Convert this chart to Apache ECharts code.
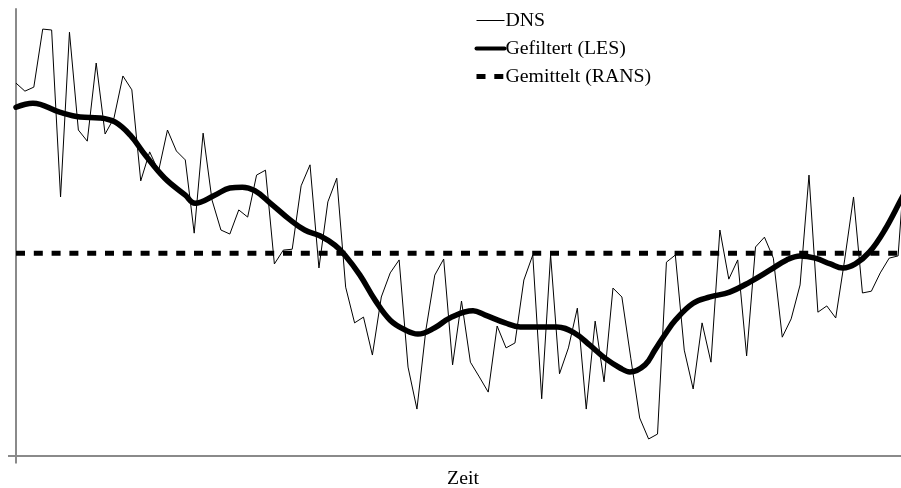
<!DOCTYPE html>
<html>
<head>
<meta charset="utf-8">
<title>DNS / LES / RANS</title>
<script src="https://cdn.jsdelivr.net/npm/echarts@6/dist/echarts.min.js"></script>
<style>
  html, body { margin: 0; padding: 0; background: #fff; overflow: hidden; }
  #chart { width: 901px; height: 488px; }
</style>
</head>
<body>
<div id="chart"></div>
<script>
// Raw signal: one sample per time step (0..100)
const dnsValues = [
  83.4, 81.6, 82.5, 95.5, 95.3, 57.9, 94.8, 72.9, 70.4, 87.9,
  72.0, 75.6, 85.0, 81.9, 61.5, 68.0, 63.7, 72.9, 68.2, 66.2,
  49.8, 72.2, 57.2, 50.5, 49.6, 55.0, 53.4, 62.8, 63.9, 42.9,
  46.0, 46.2, 60.4, 65.1, 42.0, 56.8, 62.1, 37.7, 29.7, 31.0,
  22.5, 35.5, 40.9, 43.8, 19.8, 10.4, 28.1, 40.4, 44.0, 20.3,
  34.6, 20.9, 17.6, 14.2, 29.0, 24.1, 25.2, 39.3, 44.9, 12.7,
  44.9, 18.3, 24.1, 33.0, 10.4, 30.1, 16.5, 37.5, 35.5, 21.8,
  8.4, 3.7, 4.8, 43.3, 44.9, 23.6, 14.9, 29.7, 20.9, 50.5,
  39.5, 43.8, 22.3, 46.7, 48.9, 44.2, 26.5, 30.6, 38.2, 62.8,
  32.1, 33.5, 30.8, 43.8, 57.9, 36.4, 36.8, 40.9, 44.2, 44.7,
  72.0
];

// Filtered signal: time positions and values of the smooth curve
const lesTimes = [
  0, 1.9, 4.9, 7.2, 9.4, 11.1, 12.8, 14.5, 16.7, 19.0,
  20.1, 22.3, 24.0, 25.4, 26.8, 28.5, 30.8, 32.4, 34.1, 35.8,
  36.9, 38.6, 40.3, 42.0, 43.7, 45.1, 47.0, 48.7, 51.3, 52.6,
  54.9, 56.6, 58.8, 60.7, 62.7, 64.4, 66.1, 67.8, 68.9, 70.6,
  71.7, 72.8, 74.0, 76.0, 77.9, 80.1, 82.4, 84.6, 86.5, 88.0,
  89.7, 91.4, 92.8, 94.2, 95.8, 97.5, 99.3, 100
];
const lesValues = [
  78.0, 78.9, 76.9, 75.8, 75.6, 74.7, 71.8, 67.3, 62.1, 58.3,
  56.5, 58.3, 59.9, 60.1, 59.3, 56.6, 52.7, 50.5, 49.2, 47.1,
  44.9, 40.4, 34.8, 30.3, 28.1, 27.2, 28.6, 30.8, 32.4, 31.5,
  29.7, 28.8, 28.8, 28.8, 27.4, 24.7, 21.8, 19.6, 18.7, 20.3,
  23.6, 27.0, 30.3, 34.1, 35.5, 36.6, 38.9, 41.5, 43.8, 44.7,
  44.2, 42.9, 42.0, 42.9, 45.6, 50.5, 57.2, 59.9
];

// Time-averaged level
const ransLevel = 45.3;
const timeRange = [0, 100];

const seriesNames = ['DNS', 'Gefiltert (LES)', 'Gemittelt (RANS)'];
const axisTitle = 'Zeit';

const dnsData = dnsValues.map((v, i) => [i, v]);
const lesData = lesTimes.map((t, i) => [t, lesValues[i]]);
const ransData = [[timeRange[0], ransLevel], [timeRange[1], ransLevel]];

const serif = 'Liberation Serif, Times New Roman, serif';
const axisGray = '#8a8a8a';
// legend keeps only the line sample, no marker dot
const hiddenMarker = { color: 'rgba(0,0,0,0)', borderWidth: 0, opacity: 0 };

const chart = echarts.init(document.getElementById('chart'), null, { renderer: 'canvas' });
chart.setOption({
  animation: false,
  backgroundColor: '#ffffff',
  grid: { left: 16, right: -6, top: 9, bottom: 32.5, containLabel: false, outerBoundsMode: 'none' },
  legend: {
    orient: 'vertical',
    left: 469,
    top: 5,
    itemWidth: 28,
    itemHeight: 14,
    itemGap: 7,
    itemStyle: hiddenMarker,
    textStyle: {
      fontFamily: serif,
      fontSize: 19.8,
      color: '#000',
      lineHeight: 21,
      padding: [0, 0, 0, -4]
    },
    data: [
      { name: seriesNames[0], itemStyle: hiddenMarker, lineStyle: { width: 1 } },
      { name: seriesNames[1], itemStyle: hiddenMarker, lineStyle: { width: 4 } },
      { name: seriesNames[2], itemStyle: hiddenMarker, lineStyle: { width: 5, type: [9, 8.8] } }
    ]
  },
  xAxis: {
    type: 'value',
    min: timeRange[0],
    max: timeRange[1],
    name: axisTitle,
    nameLocation: 'middle',
    nameGap: 13.5,
    nameTextStyle: { fontFamily: serif, fontSize: 19.8, color: '#000', padding: [0, 0, 0, 3] },
    axisLine: { show: true, lineStyle: { color: axisGray, width: 2 } },
    axisTick: { show: true, customValues: [timeRange[0]], length: 8, lineStyle: { color: axisGray, width: 2 } },
    axisLabel: { show: false },
    splitLine: { show: false }
  },
  yAxis: {
    type: 'value',
    min: 0,
    max: 100,
    axisLine: { show: true, lineStyle: { color: axisGray, width: 2 } },
    axisTick: { show: true, customValues: [0], length: 8, lineStyle: { color: axisGray, width: 2 } },
    axisLabel: { show: false },
    splitLine: { show: false }
  },
  series: [
    {
      name: seriesNames[0],
      type: 'line',
      data: dnsData,
      symbol: 'none',
      lineStyle: { color: '#000', width: 1 },
      itemStyle: { color: '#000' },
      z: 2
    },
    {
      name: seriesNames[1],
      type: 'line',
      data: lesData,
      symbol: 'none',
      smooth: 0.4,
      lineStyle: { color: '#000', width: 5.5, cap: 'round', join: 'round' },
      itemStyle: { color: '#000' },
      z: 3
    },
    {
      name: seriesNames[2],
      type: 'line',
      data: ransData,
      symbol: 'none',
      lineStyle: { color: '#000', width: 5, type: [9, 8.8], cap: 'butt' },
      itemStyle: { color: '#000' },
      z: 4
    }
  ]
});
</script>
</body>
</html>
